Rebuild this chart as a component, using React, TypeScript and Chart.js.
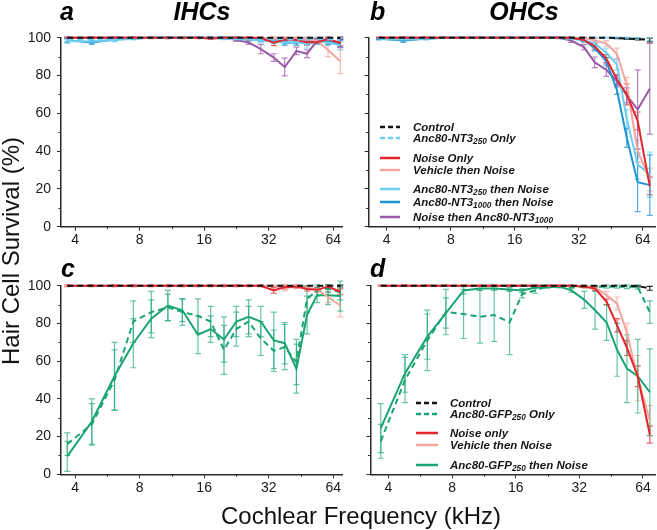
import React, { useEffect, useRef } from "react";
import { Chart, registerables } from "chart.js";

Chart.register(...registerables);

// ---------- data ----------
const FREQ_KHZ = [3.68, 4.79, 6.11, 7.48, 9.07, 10.84, 12.66, 14.97, 17.16, 19.8, 22.6, 25.8, 29.4, 33.8, 38.0, 43.1, 48.3, 53.8, 60.5, 69.0];
const X_TICKS = [4, 8, 16, 32, 64];
const X_MINOR = [5.657, 11.31, 22.63, 45.25];
const Y_TICKS = [0, 20, 40, 60, 80, 100];
const Y_MINOR = [10, 30, 50, 70, 90];

// Panel a – IHCs (NT3)
const A_CONTROL = [100, 100, 100, 100, 100, 100, 100, 100, 100, 100, 100, 100, 100, 100, 100, 100, 100, 100, 100, 99.8];
const A_CONTROL_ERR = [0, 0, 0, 0, 0, 0, 0, 0, 0, 0, 0, 0, 0, 0, 0, 0, 0, 0, 0, 0.5];
const A_NT3_250_ONLY = [99.0, 99.2, 99.6, 100, 100, 100, 100, 100, 100, 100, 100, 99.8, 99.5, 99.5, 99.2, 99.0, 99.3, 99.5, 99.2, 98.8];
const A_NT3_250_ONLY_ERR = [0.8, 0.8, 0.5, 0.3, 0.3, 0.3, 0.3, 0.3, 0.3, 0.3, 0.3, 0.5, 0.6, 0.6, 0.8, 0.8, 0.8, 0.8, 1.0, 1.2];
const A_NOISE = [100, 100, 100, 100, 100, 100, 100, 100, 99.6, 100, 100, 100, 99.8, 97.3, 99.0, 98.8, 97.6, 97.6, 99.3, 97.2];
const A_NOISE_ERR = [0.5, 0.5, 0.5, 0.5, 0.5, 0.5, 0.5, 0.5, 0.5, 0.5, 0.5, 0.5, 0.5, 1.5, 1.0, 1.0, 1.5, 1.2, 1.0, 1.5];
const A_VEHICLE = [100, 100, 100, 100, 100, 100, 100, 100, 100, 100, 100, 100, 100, 99.5, 99.5, 99.5, 99.0, 98.5, 93.5, 87.5];
const A_VEHICLE_ERR = [0.3, 0.3, 0.3, 0.3, 0.3, 0.3, 0.3, 0.3, 0.3, 0.3, 0.3, 0.3, 0.3, 1.0, 1.0, 1.0, 1.5, 1.5, 3.5, 6.5];
const A_NT3_250_N = [98.2, 98.0, 98.8, 99.5, 100, 100, 100, 100, 99.8, 99.5, 99.2, 99.0, 98.5, 98.0, 97.5, 97.8, 96.5, 98.0, 97.5, 96.0];
const A_NT3_250_N_ERR = [1.2, 1.0, 1.0, 0.6, 0.3, 0.3, 0.3, 0.3, 0.4, 0.5, 0.6, 0.8, 1.0, 1.2, 1.5, 1.5, 2.0, 1.5, 1.5, 2.5];
const A_NT3_1000_N = [98.6, 97.4, 99.0, 99.6, 100, 100, 100, 100, 100, 100, 99.8, 99.5, 99.0, 98.2, 97.3, 97.5, 97.8, 98.2, 97.8, 97.0];
const A_NT3_1000_N_ERR = [1.0, 1.0, 0.6, 0.3, 0.3, 0.3, 0.3, 0.3, 0.3, 0.3, 0.4, 0.6, 0.8, 1.0, 1.2, 1.5, 1.5, 1.2, 1.5, 2.0];
const A_N_NT3_1000 = [100, 100, 100, 100, 100, 100, 100, 100, 100, 100, 98.8, 97.5, 94.0, 89.5, 84.5, 93.0, 91.5, 98.5, 99.0, 97.0];
const A_N_NT3_1000_ERR = [0.2, 0.2, 0.2, 0.2, 0.2, 0.2, 0.2, 0.2, 0.2, 0.2, 0.8, 1.0, 2.5, 2.0, 4.7, 2.0, 2.0, 1.0, 1.0, 2.0];

// Panel b – OHCs (NT3)
const B_CONTROL = [100, 100, 100, 100, 100, 100, 100, 100, 100, 100, 100, 100, 100, 100, 100, 100, 99.8, 99.5, 99.3, 98.8];
const B_CONTROL_ERR = [0, 0, 0, 0, 0, 0, 0, 0, 0, 0, 0, 0, 0, 0, 0, 0, 0.3, 0.4, 0.5, 1.0];
const B_NT3_250_ONLY = [99.6, 99.5, 99.8, 100, 100, 100, 100, 100, 100, 100, 100, 100, 100, 100, 100, 100, 100, 99.8, 99.5, 99.2];
const B_NT3_250_ONLY_ERR = [0.4, 0.5, 0.4, 0.3, 0.3, 0.3, 0.3, 0.3, 0.3, 0.3, 0.3, 0.3, 0.3, 0.3, 0.3, 0.3, 0.3, 0.4, 0.5, 0.8];
const B_NOISE = [100, 100, 100, 100, 100, 100, 100, 100, 100, 100, 100, 100, 100, 98.8, 95.5, 89.0, 78.0, 70.0, 56.0, 21.5];
const B_NOISE_ERR = [0.3, 0.3, 0.3, 0.3, 0.3, 0.3, 0.3, 0.3, 0.3, 0.3, 0.3, 0.3, 0.3, 1.0, 1.5, 2.0, 2.5, 5.5, 4.7, 4.7];
const B_VEHICLE = [100, 100, 100, 100, 100, 100, 100, 100, 100, 100, 100, 100, 100, 100, 98.5, 97.0, 91.5, 75.0, 40.0, 25.0];
const B_VEHICLE_ERR = [0.3, 0.3, 0.3, 0.3, 0.3, 0.3, 0.3, 0.3, 0.3, 0.3, 0.3, 0.3, 0.3, 0.5, 1.0, 1.5, 3.0, 4.0, 6.0, 6.0];
const B_NT3_250_N = [99.4, 99.0, 99.5, 100, 100, 100, 100, 100, 100, 100, 100, 99.8, 99.5, 98.5, 97.0, 92.0, 86.0, 57.0, 33.0, 27.5];
const B_NT3_250_N_ERR = [0.6, 0.8, 0.5, 0.3, 0.3, 0.3, 0.3, 0.3, 0.3, 0.3, 0.3, 0.4, 0.5, 1.0, 1.5, 2.5, 3.0, 5.0, 8.0, 12.0];
const B_NT3_1000_N = [99.5, 98.5, 99.5, 100, 100, 100, 100, 100, 100, 100, 100, 100, 100, 99.0, 94.5, 87.5, 72.5, 47.0, 23.5, 22.0];
const B_NT3_1000_N_ERR = [0.5, 1.0, 0.5, 0.3, 0.3, 0.3, 0.3, 0.3, 0.3, 0.3, 0.3, 0.3, 0.3, 1.0, 1.5, 2.0, 2.5, 5.0, 15.5, 16.0];
const B_N_NT3_1000 = [100, 100, 100, 100, 100, 100, 100, 100, 100, 100, 100, 100, 98.5, 95.0, 87.0, 83.0, 77.0, 69.5, 62.0, 73.0];
const B_N_NT3_1000_ERR = [0.2, 0.2, 0.2, 0.2, 0.2, 0.2, 0.2, 0.2, 0.2, 0.2, 0.2, 0.3, 1.0, 1.5, 2.8, 3.5, 3.0, 4.0, 21.0, 24.0];

// Panel c – IHCs (GFP)
const C_CONTROL = [100, 100, 100, 100, 100, 100, 100, 100, 100, 100, 100, 100, 100, 100, 100, 100, 100, 100, 100, 99.8];
const C_CONTROL_ERR = [0, 0, 0, 0, 0, 0, 0, 0, 0, 0, 0, 0, 0, 0, 0, 0, 0, 0, 0, 0.5];
const C_GFP_ONLY = [16.0, 26.5, 50.0, 81.0, 86.0, 88.5, 86.0, 84.0, 81.0, 66.0, 77.0, 81.0, 72.0, 65.5, 67.5, 59.5, 93.0, 97.5, 98.5, 96.5];
const C_GFP_ONLY_ERR = [6, 11, 16, 11, 11, 7, 7, 9, 8, 13, 9, 8, 9, 11, 12, 12, 7, 3, 2, 4];
const C_GFP_N = [9.5, 28.0, 52.0, 69.5, 82.5, 89.5, 87.0, 74.0, 77.0, 71.5, 81.0, 83.5, 81.0, 71.0, 69.5, 56.0, 84.5, 95.0, 95.0, 94.5];
const C_GFP_N_ERR = [8, 12, 18, 13, 10, 8, 6, 10, 7, 12, 8, 9, 8, 15, 11, 13, 10, 4, 5, 8];
const C_NOISE = [100, 100, 100, 100, 100, 100, 100, 100, 100, 100, 100, 100, 100, 97.5, 99.3, 99.5, 98.2, 97.8, 99.5, 96.8];
const C_NOISE_ERR = [0.5, 0.5, 0.5, 0.5, 0.5, 0.5, 0.5, 0.5, 0.5, 0.5, 0.5, 0.5, 0.5, 1.5, 1.0, 0.8, 1.0, 1.0, 1.0, 1.5];
const C_VEHICLE = [100, 100, 100, 100, 100, 100, 100, 100, 100, 100, 100, 100, 100, 100, 98.8, 99.5, 99.0, 98.0, 94.0, 89.5];
const C_VEHICLE_ERR = [0.3, 0.3, 0.3, 0.3, 0.3, 0.3, 0.3, 0.3, 0.3, 0.3, 0.3, 0.3, 0.3, 0.3, 1.5, 0.8, 1.0, 1.5, 3.0, 6.0];

// Panel d – OHCs (GFP)
const D_CONTROL = [100, 100, 100, 100, 100, 100, 100, 100, 100, 100, 100, 100, 100, 100, 100, 100, 100, 100, 99.8, 98.6];
const D_CONTROL_ERR = [0, 0, 0, 0, 0, 0, 0, 0, 0, 0, 0, 0, 0, 0, 0, 0, 0, 0, 0.4, 1.0];
const D_GFP_ONLY = [17.5, 50.0, 71.0, 86.0, 85.0, 83.5, 84.5, 80.5, 95.5, 97.5, 99.5, 99.5, 99.5, 99.5, 99.5, 99.5, 99.5, 99.5, 99.2, 86.0];
const D_GFP_ONLY_ERR = [9, 12, 16, 12, 13, 14, 14, 17, 2, 1.5, 0.8, 0.5, 0.5, 0.5, 0.5, 0.8, 0.8, 1, 1, 6];
const D_GFP_N = [24.5, 53.5, 73.0, 85.5, 97.5, 98.5, 98.5, 98.0, 97.5, 99.0, 99.5, 99.5, 97.5, 92.5, 87.0, 80.5, 66.0, 56.0, 52.0, 43.5];
const D_GFP_N_ERR = [13, 10, 12, 8, 2, 1, 1, 1, 1, 0.5, 0.5, 0.5, 1, 4.5, 10, 9.5, 14, 18, 19.5, 23];
const D_NOISE = [100, 100, 100, 100, 100, 100, 100, 100, 100, 100, 100, 100, 100, 99.5, 98.5, 91.5, 79.0, 67.0, 52.0, 21.0];
const D_NOISE_ERR = [0.3, 0.3, 0.3, 0.3, 0.3, 0.3, 0.3, 0.3, 0.3, 0.3, 0.3, 0.3, 0.3, 0.5, 1.0, 1.5, 3.5, 4.0, 5.5, 4.5];
const D_VEHICLE = [100, 100, 100, 100, 100, 100, 100, 100, 100, 100, 100, 100, 100, 100, 99.0, 95.0, 90.5, 75.0, 51.0, 28.5];
const D_VEHICLE_ERR = [0.3, 0.3, 0.3, 0.3, 0.3, 0.3, 0.3, 0.3, 0.3, 0.3, 0.3, 0.3, 0.3, 0.3, 1.0, 2.0, 3.5, 5.0, 12.0, 8.0];

// ---------- styles ----------
const FONT = '"Liberation Sans", Arial, Helvetica, sans-serif';
const AXIS_COLOR = "#2a2a2a";
const C_BLACK = "#111111";
const C_LBLUE = "#6FCDF1";
const C_BLUE = "#1E93D2";
const C_RED = "#E2262C";
const C_PINK = "#F2A49E";
const C_PURPLE = "#9B5AA7";
const C_GREEN = "#19A56F";

type Series = { data: number[]; err: number[]; color: string; errColor: string; dashed?: boolean };

const errorBarPlugin = {
  id: "errorBars",
  beforeDatasetsDraw(chart: any) {
    const { ctx } = chart;
    const xs = chart.scales.x;
    const ys = chart.scales.y;
    chart.data.datasets.forEach((ds: any) => {
      if (!ds.errors) return;
      ctx.save();
      ctx.strokeStyle = ds.errColor;
      ctx.lineWidth = 1.2;
      ds.data.forEach((p: any, i: number) => {
        const e = ds.errors[i];
        if (!e) return;
        const px = xs.getPixelForValue(p.x);
        const top = ys.getPixelForValue(p.y + e);
        const bot = ys.getPixelForValue(Math.max(0, p.y - e));
        ctx.beginPath();
        ctx.moveTo(px, top);
        ctx.lineTo(px, bot);
        ctx.moveTo(px - 3, top);
        ctx.lineTo(px + 3, top);
        ctx.moveTo(px - 3, bot);
        ctx.lineTo(px + 3, bot);
        ctx.stroke();
      });
      ctx.restore();
    });
  },
};

const minorTickPlugin = {
  id: "minorTicks",
  afterDraw(chart: any) {
    const { ctx, chartArea } = chart;
    const xs = chart.scales.x;
    const ys = chart.scales.y;
    ctx.save();
    ctx.strokeStyle = AXIS_COLOR;
    ctx.lineWidth = 1;
    X_MINOR.forEach((v) => {
      const px = Math.round(xs.getPixelForValue(v)) + 0.5;
      ctx.beginPath();
      ctx.moveTo(px, chartArea.bottom);
      ctx.lineTo(px, chartArea.bottom + 2.5);
      ctx.stroke();
    });
    Y_MINOR.forEach((v) => {
      const py = Math.round(ys.getPixelForValue(v)) + 0.5;
      ctx.beginPath();
      ctx.moveTo(chartArea.left - 2.5, py);
      ctx.lineTo(chartArea.left, py);
      ctx.stroke();
    });
    ctx.restore();
  },
};

type PanelSpec = {
  left: number;
  top: number;
  w: number;
  h: number;
  padTop: number;
  padRight: number;
  yW: number;
  xH: number;
  xMin: number;
  xMax: number;
  showY: boolean;
  series: Series[];
};

function makeConfig(spec: PanelSpec): any {
  return {
    type: "line",
    data: {
      datasets: spec.series.map((s) => ({
        data: s.data.map((v, i) => ({ x: FREQ_KHZ[i], y: v })),
        errors: s.err,
        errColor: s.errColor,
        borderColor: s.color,
        backgroundColor: s.color,
        borderWidth: 2,
        borderDash: s.dashed ? [6, 4] : [],
        pointRadius: 0,
        fill: false,
        tension: 0,
        clip: false,
      })),
    },
    options: {
      animation: false,
      responsive: false,
      maintainAspectRatio: false,
      layout: { padding: { top: spec.padTop, right: spec.padRight, left: 0, bottom: 0 } },
      plugins: { legend: { display: false }, tooltip: { enabled: false }, title: { display: false } },
      scales: {
        x: {
          type: "logarithmic",
          min: spec.xMin,
          max: spec.xMax,
          afterBuildTicks: (s: any) => {
            s.ticks = X_TICKS.map((v) => ({ value: v }));
          },
          afterFit: (s: any) => {
            s.height = spec.xH;
          },
          ticks: {
            callback: (v: any) => String(v),
            autoSkip: false,
            maxRotation: 0,
            padding: 1,
            color: "#1a1a1a",
            font: { family: FONT, size: 14 },
          },
          grid: { display: true, drawOnChartArea: false, drawTicks: true, tickLength: 4, color: AXIS_COLOR, lineWidth: 1 },
          border: { display: true, color: AXIS_COLOR, width: 1.5 },
        },
        y: {
          type: "linear",
          min: 0,
          max: 100,
          afterBuildTicks: (s: any) => {
            s.ticks = Y_TICKS.map((v) => ({ value: v }));
          },
          afterFit: (s: any) => {
            s.width = spec.yW;
          },
          ticks: {
            display: spec.showY,
            padding: 6,
            color: "#1a1a1a",
            font: { family: FONT, size: 14 },
          },
          grid: { display: true, drawOnChartArea: false, drawTicks: true, tickLength: 4, color: AXIS_COLOR, lineWidth: 1 },
          border: { display: true, color: AXIS_COLOR, width: 1.5 },
        },
      },
    },
    plugins: [errorBarPlugin, minorTickPlugin],
  };
}

function Panel({ spec }: { spec: PanelSpec }) {
  const ref = useRef<HTMLCanvasElement>(null);
  useEffect(() => {
    const chart = new Chart(ref.current as HTMLCanvasElement, makeConfig(spec));
    return () => chart.destroy();
  }, []);
  return (
    <canvas
      ref={ref}
      width={spec.w}
      height={spec.h}
      style={{ position: "absolute", left: spec.left, top: spec.top, width: spec.w, height: spec.h }}
    />
  );
}

const alpha = (hex: string, a: number) => {
  const n = parseInt(hex.slice(1), 16);
  return `rgba(${(n >> 16) & 255},${(n >> 8) & 255},${n & 255},${a})`;
};

const S = (data: number[], err: number[], color: string, dashed = false, ea = 0.75): Series => ({
  data,
  err,
  color,
  errColor: alpha(color, ea),
  dashed,
});

const PANEL_A: PanelSpec = {
  left: 0, top: 0, w: 350, h: 262, padTop: 37.7, padRight: 8, yW: 61, xH: 262 - 226.7,
  xMin: 3.44, xMax: 70.3, showY: true,
  series: [
    S(A_CONTROL, A_CONTROL_ERR, C_BLACK, true, 0.9),
    S(A_NT3_250_ONLY, A_NT3_250_ONLY_ERR, C_LBLUE, true),
    S(A_NOISE, A_NOISE_ERR, C_RED),
    S(A_VEHICLE, A_VEHICLE_ERR, C_PINK),
    S(A_NT3_250_N, A_NT3_250_N_ERR, C_LBLUE),
    S(A_NT3_1000_N, A_NT3_1000_N_ERR, C_BLUE),
    S(A_N_NT3_1000, A_N_NT3_1000_ERR, C_PURPLE),
  ],
};

const PANEL_B: PanelSpec = {
  left: 345, top: 0, w: 312, h: 262, padTop: 37.7, padRight: 2, yW: 23.7, xH: 262 - 226.7,
  xMin: 3.29, xMax: 73, showY: false,
  series: [
    S(B_CONTROL, B_CONTROL_ERR, C_BLACK, true, 0.9),
    S(B_NT3_250_ONLY, B_NT3_250_ONLY_ERR, C_LBLUE, true),
    S(B_NOISE, B_NOISE_ERR, C_RED),
    S(B_VEHICLE, B_VEHICLE_ERR, C_PINK),
    S(B_NT3_250_N, B_NT3_250_N_ERR, C_LBLUE),
    S(B_NT3_1000_N, B_NT3_1000_N_ERR, C_BLUE),
    S(B_N_NT3_1000, B_N_NT3_1000_ERR, C_PURPLE),
  ],
};

const PANEL_C: PanelSpec = {
  left: 0, top: 250, w: 350, h: 280, padTop: 35.7, padRight: 8, yW: 61, xH: 530 - 474.3,
  xMin: 3.44, xMax: 70.3, showY: true,
  series: [
    S(C_CONTROL, C_CONTROL_ERR, C_BLACK, true, 0.9),
    S(C_NOISE, C_NOISE_ERR, C_RED),
    S(C_VEHICLE, C_VEHICLE_ERR, C_PINK),
    S(C_GFP_ONLY, C_GFP_ONLY_ERR, C_GREEN, true, 0.65),
    S(C_GFP_N, C_GFP_N_ERR, C_GREEN, false, 0.65),
  ],
};

const PANEL_D: PanelSpec = {
  left: 345, top: 250, w: 312, h: 280, padTop: 35.7, padRight: 2, yW: 25.5, xH: 530 - 474.3,
  xMin: 3.29, xMax: 73, showY: false,
  series: [
    S(D_CONTROL, D_CONTROL_ERR, C_BLACK, true, 0.9),
    S(D_NOISE, D_NOISE_ERR, C_RED),
    S(D_VEHICLE, D_VEHICLE_ERR, C_PINK),
    S(D_GFP_ONLY, D_GFP_ONLY_ERR, C_GREEN, true, 0.65),
    S(D_GFP_N, D_GFP_N_ERR, C_GREEN, false, 0.65),
  ],
};

const SUB: React.CSSProperties = { fontSize: "0.72em", verticalAlign: "-0.3em", lineHeight: 0 };

type LegendItem = { y: number; color: string; dashed?: boolean; label: React.ReactNode };

const LEGEND_B: LegendItem[] = [
  { y: 126.7, color: C_BLACK, dashed: true, label: "Control" },
  { y: 138.3, color: C_LBLUE, dashed: true, label: <>Anc80-NT3<sub style={SUB}>250</sub> Only</> },
  { y: 157.7, color: C_RED, label: "Noise Only" },
  { y: 170, color: C_PINK, label: "Vehicle then Noise" },
  { y: 189.3, color: C_LBLUE, label: <>Anc80-NT3<sub style={SUB}>250</sub> then Noise</> },
  { y: 202.3, color: C_BLUE, label: <>Anc80-NT3<sub style={SUB}>1000</sub> then Noise</> },
  { y: 217.3, color: C_PURPLE, label: <>Noise then Anc80-NT3<sub style={SUB}>1000</sub></> },
];

const LEGEND_D: LegendItem[] = [
  { y: 402.7, color: C_BLACK, dashed: true, label: "Control" },
  { y: 414, color: C_GREEN, dashed: true, label: <>Anc80-GFP<sub style={SUB}>250</sub> Only</> },
  { y: 433.3, color: C_RED, label: "Noise only" },
  { y: 445, color: C_PINK, label: "Vehicle then Noise" },
  { y: 465, color: C_GREEN, label: <>Anc80-GFP<sub style={SUB}>250</sub> then Noise</> },
];

function Legend({ items, lineLeft, lineW, textLeft }: { items: LegendItem[]; lineLeft: number; lineW: number; textLeft: number }) {
  return (
    <>
      {items.map((it, i) => (
        <div
          key={i}
          style={{ position: "absolute", left: lineLeft, top: it.y - 7, height: 14, display: "flex", alignItems: "center", whiteSpace: "nowrap" }}
        >
          <svg width={lineW} height={4} style={{ display: "block" }}>
            <line x1={0} y1={2} x2={lineW} y2={2} stroke={it.color} strokeWidth={2.5} strokeDasharray={it.dashed ? "5 3" : undefined} />
          </svg>
          <span
            style={{
              marginLeft: textLeft - lineLeft - lineW,
              fontFamily: FONT,
              fontStyle: "italic",
              fontWeight: "bold",
              fontSize: 11.5,
              lineHeight: "14px",
              color: "#151515",
            }}
          >
            {it.label}
          </span>
        </div>
      ))}
    </>
  );
}

const titleStyle: React.CSSProperties = {
  position: "absolute",
  fontFamily: FONT,
  fontStyle: "italic",
  fontWeight: "bold",
  fontSize: 25,
  lineHeight: "25px",
  color: "#000",
  whiteSpace: "nowrap",
};

export default function App() {
  return (
    <div style={{ position: "absolute", left: 0, top: 0, width: 657, height: 530, background: "#fff", overflow: "hidden" }}>
      <Panel spec={PANEL_A} />
      <Panel spec={PANEL_B} />
      <Panel spec={PANEL_C} />
      <Panel spec={PANEL_D} />

      <div style={{ ...titleStyle, left: 60, top: -1 }}>a</div>
      <div style={{ ...titleStyle, left: 202, top: -1, transform: "translateX(-50%)" }}>IHCs</div>
      <div style={{ ...titleStyle, left: 370, top: -1 }}>b</div>
      <div style={{ ...titleStyle, left: 524, top: -1, transform: "translateX(-50%)" }}>OHCs</div>
      <div style={{ ...titleStyle, left: 61, top: 256 }}>c</div>
      <div style={{ ...titleStyle, left: 370, top: 256 }}>d</div>

      <Legend items={LEGEND_B} lineLeft={380} lineW={20} textLeft={413} />
      <Legend items={LEGEND_D} lineLeft={416} lineW={22} textLeft={450} />

      <div
        style={{
          position: "absolute",
          left: 11,
          top: 251,
          transform: "translate(-50%, -50%) rotate(-90deg)",
          fontFamily: FONT,
          fontSize: 24,
          lineHeight: "24px",
          whiteSpace: "nowrap",
          color: "#111",
        }}
      >
        Hair Cell Survival (%)
      </div>
      <div
        style={{
          position: "absolute",
          left: 361,
          top: 516,
          transform: "translate(-50%, -50%)",
          fontFamily: FONT,
          fontSize: 24,
          lineHeight: "24px",
          whiteSpace: "nowrap",
          color: "#111",
        }}
      >
        Cochlear Frequency (kHz)
      </div>
    </div>
  );
}
